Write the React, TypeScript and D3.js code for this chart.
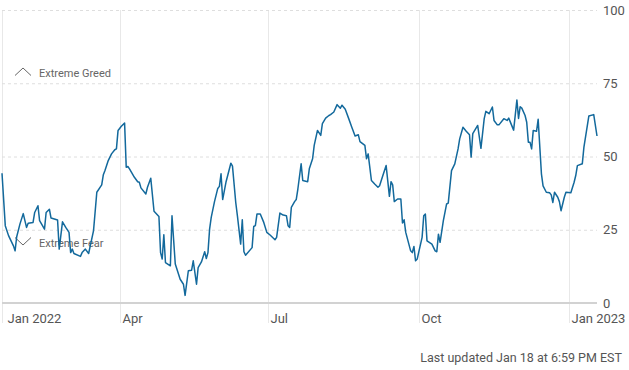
import { useMemo } from 'react';
import * as d3 from 'd3';

// fear & greed index, one year to Jan 18 2023
const dates = [
  '2022-01-19', '2022-01-21', '2022-01-23', '2022-01-26', '2022-01-27', '2022-01-28', '2022-01-30',
  '2022-02-01', '2022-02-03', '2022-02-04', '2022-02-07', '2022-02-08', '2022-02-10', '2022-02-11',
  '2022-02-14', '2022-02-15', '2022-02-17', '2022-02-18', '2022-02-22', '2022-02-23', '2022-02-25',
  '2022-02-27', '2022-03-01', '2022-03-02', '2022-03-03', '2022-03-04', '2022-03-08', '2022-03-09',
  '2022-03-11', '2022-03-13', '2022-03-16', '2022-03-18', '2022-03-21', '2022-03-22', '2022-03-23',
  '2022-03-25', '2022-03-27', '2022-03-29', '2022-03-30', '2022-03-31', '2022-04-02', '2022-04-04',
  '2022-04-05', '2022-04-06', '2022-04-07', '2022-04-10', '2022-04-12', '2022-04-13', '2022-04-14',
  '2022-04-17', '2022-04-18', '2022-04-20', '2022-04-22', '2022-04-25', '2022-04-26', '2022-04-27',
  '2022-04-28', '2022-04-29', '2022-05-02', '2022-05-03', '2022-05-05', '2022-05-08', '2022-05-10',
  '2022-05-11', '2022-05-13', '2022-05-15', '2022-05-16', '2022-05-18', '2022-05-19', '2022-05-21',
  '2022-05-23', '2022-05-24', '2022-05-25', '2022-05-26', '2022-05-27', '2022-05-29', '2022-05-31',
  '2022-06-01', '2022-06-02', '2022-06-03', '2022-06-05', '2022-06-08', '2022-06-09', '2022-06-11',
  '2022-06-12', '2022-06-14', '2022-06-15', '2022-06-16', '2022-06-17', '2022-06-21', '2022-06-22',
  '2022-06-23', '2022-06-24', '2022-06-26', '2022-06-28', '2022-06-30', '2022-07-02', '2022-07-05',
  '2022-07-06', '2022-07-08', '2022-07-10', '2022-07-12', '2022-07-13', '2022-07-14', '2022-07-15',
  '2022-07-17', '2022-07-18', '2022-07-19', '2022-07-21', '2022-07-22', '2022-07-25', '2022-07-26',
  '2022-07-28', '2022-07-29', '2022-07-31', '2022-08-02', '2022-08-03', '2022-08-05', '2022-08-07',
  '2022-08-08', '2022-08-10', '2022-08-12', '2022-08-14', '2022-08-15', '2022-08-17', '2022-08-19',
  '2022-08-21', '2022-08-23', '2022-08-25', '2022-08-26', '2022-08-29', '2022-08-30', '2022-08-31',
  '2022-09-02', '2022-09-04', '2022-09-06', '2022-09-07', '2022-09-09', '2022-09-11', '2022-09-13',
  '2022-09-14', '2022-09-15', '2022-09-16', '2022-09-18', '2022-09-20', '2022-09-21', '2022-09-22',
  '2022-09-23', '2022-09-26', '2022-09-27', '2022-09-28', '2022-09-29', '2022-09-30', '2022-10-03',
  '2022-10-04', '2022-10-05', '2022-10-06', '2022-10-09', '2022-10-11', '2022-10-12', '2022-10-13',
  '2022-10-14', '2022-10-16', '2022-10-18', '2022-10-19', '2022-10-21', '2022-10-23', '2022-10-25',
  '2022-10-26', '2022-10-28', '2022-10-30', '2022-11-01', '2022-11-02', '2022-11-03', '2022-11-06',
  '2022-11-08', '2022-11-10', '2022-11-11', '2022-11-13', '2022-11-15', '2022-11-16', '2022-11-18',
  '2022-11-19', '2022-11-22', '2022-11-24', '2022-11-25', '2022-11-28', '2022-11-30', '2022-12-01',
  '2022-12-02', '2022-12-03', '2022-12-05', '2022-12-06', '2022-12-07', '2022-12-08', '2022-12-09',
  '2022-12-10', '2022-12-12', '2022-12-13', '2022-12-15', '2022-12-16', '2022-12-18', '2022-12-20',
  '2022-12-21', '2022-12-22', '2022-12-23', '2022-12-25', '2022-12-26', '2022-12-27', '2022-12-29',
  '2022-12-30', '2023-01-02', '2023-01-04', '2023-01-05', '2023-01-06', '2023-01-09', '2023-01-10',
  '2023-01-13', '2023-01-16', '2023-01-18',
];

const values = [
  44.3, 26.4, 23, 19.5, 17.8, 22.6, 27,
  30.5, 25.8, 27.2, 27.5, 30.9, 33.2, 28.1,
  25.2, 30.9, 32, 29, 28.3, 18.4, 27.7,
  25.8, 24.1, 17.2, 18.4, 16.9, 15.9, 17.2,
  18.4, 16.9, 24.7, 37.8, 40.3, 43.8, 45.2,
  48.6, 50.9, 52.3, 52.6, 58.9, 60.3, 61.4,
  46.3, 46.6, 45.8, 42.9, 41.4, 41.2, 39.3,
  37.2, 39.5, 42.6, 31.3, 29.5, 17.2, 15,
  23.3, 13.8, 12.7, 29.8, 13.3, 8.1, 6.4,
  2.6, 11, 11.2, 14.4, 6.4, 12.1, 14,
  17.5, 15.2, 17.2, 25.2, 29.2, 34.6, 39.1,
  39.8, 44.1, 35.3, 41.2, 47.7, 46.7, 34.3,
  29.8, 20.1, 28.4, 17.5, 16.3, 18.9, 26.1,
  26.4, 30.4, 30.4, 27.7, 24.1, 23.2, 21.6,
  22.4, 30.7, 30, 29.8, 26.4, 25.8, 32.6,
  34.6, 35.3, 38.9, 47.5, 41.8, 41.4, 45.8,
  49.2, 53.8, 58.9, 57.2, 61.2, 63.1, 64,
  64.3, 65.2, 67.7, 66.5, 67.5, 66.1, 63.1,
  60, 57, 57.4, 55.1, 53.8, 49.2, 50.9,
  41.8, 40.6, 39.5, 40, 43.5, 46.9, 36.4,
  41.4, 40.3, 34.6, 35.5, 35.5, 27.3, 28.4,
  24.1, 17.8, 17.2, 19.3, 14.4, 15, 22.4,
  29.8, 30.4, 21.2, 20.1, 17.8, 17.5, 23.5,
  20.7, 28.1, 33.8, 34.1, 45.2, 47.5, 52.6,
  56, 60, 58.6, 57.4, 49.8, 57.8, 60.6,
  52.8, 62.9, 65.4, 64.6, 66.9, 62.3, 60.8,
  60.8, 62.9, 62.3, 63.1, 59, 69.3, 63,
  67, 66.5, 64, 61.7, 54.9, 54.9, 52.6,
  58.9, 58.6, 62.7, 44.1, 40, 37.8, 37.6,
  36.9, 34.3, 37.8, 36.1, 34.6, 31.5, 36.1,
  37.8, 37.6, 41.2, 43.5, 46.9, 47.5, 53.2,
  63.8, 64.3, 57,
];

const xTickDates = ['2022-01-19', '2022-04-01', '2022-07-01', '2022-10-01', '2023-01-01'];
const xTickLabels = ['Jan 2022', 'Apr', 'Jul', 'Oct', 'Jan 2023'];
const yTicks = [0, 25, 50, 75, 100];
const domainDates = ['2022-01-19', '2023-01-18'];

const width = 629;
const height = 370;
const font = 'Roboto, "Liberation Sans", sans-serif';
const lineColor = '#13699c';

const parse = d3.timeParse('%Y-%m-%d');

const App = () => {
  const x = d3.scaleTime()
    .domain(domainDates.map((d) => parse(d) as Date))
    .range([2, 597]);
  const y = d3.scaleLinear().domain([0, 100]).range([303, 10]);

  const points = useMemo(
    () => dates.map((d, i) => ({ date: parse(d) as Date, value: values[i] })),
    []
  );

  const linePath = d3.line<{ date: Date; value: number }>()
    .x((d) => x(d.date))
    .y((d) => y(d.value))(points);

  return (
    <svg
      width={width}
      height={height}
      style={{ position: 'absolute', left: 0, top: 0, fontFamily: font }}
    >
      {/* vertical grid */}
      {xTickDates.map((d, i) => {
        const px = Math.round(x(parse(d) as Date)) + 0.5;
        return (
          <g key={d}>
            <line x1={px} x2={px} y1={10} y2={323} stroke="#e8e8e8" strokeWidth={1} />
            <text x={px + (i === 0 ? 5 : 2)} y={323} fontSize={13} fill="#555">
              {xTickLabels[i]}
            </text>
          </g>
        );
      })}

      {/* horizontal grid */}
      {yTicks.map((t) => (
        <g key={t}>
          {t === 0 ? (
            <line x1={2} x2={597} y1={y(t)} y2={y(t)} stroke="#d2d2d2" strokeWidth={2} />
          ) : (
            <line
              x1={2}
              x2={597}
              y1={y(t) + 0.5}
              y2={y(t) + 0.5}
              stroke="#dedede"
              strokeDasharray="3 3"
            />
          )}
          <text x={603} y={y(t)} fontSize={13} fill="#555" dominantBaseline="central">
            {t}
          </text>
        </g>
      ))}

      {/* zone labels */}
      <path d="M15,75.5 L23,68 L31,75.5" fill="none" stroke="#666" strokeWidth={1} />
      <text x={39} y={73} fontSize={11} fill="#666" dominantBaseline="central">
        Extreme Greed
      </text>
      <path d="M15,237.5 L23,245 L31,237.5" fill="none" stroke="#666" strokeWidth={1} />
      <text x={39} y={243} fontSize={11} fill="#666" dominantBaseline="central">
        Extreme Fear
      </text>

      <path d={linePath ?? ''} fill="none" stroke={lineColor} strokeWidth={1.5} strokeLinejoin="round" />

      <text x={622} y={362} fontSize={12.5} fill="#555" textAnchor="end">
        Last updated Jan 18 at 6:59 PM EST
      </text>
    </svg>
  );
};

export default App;
